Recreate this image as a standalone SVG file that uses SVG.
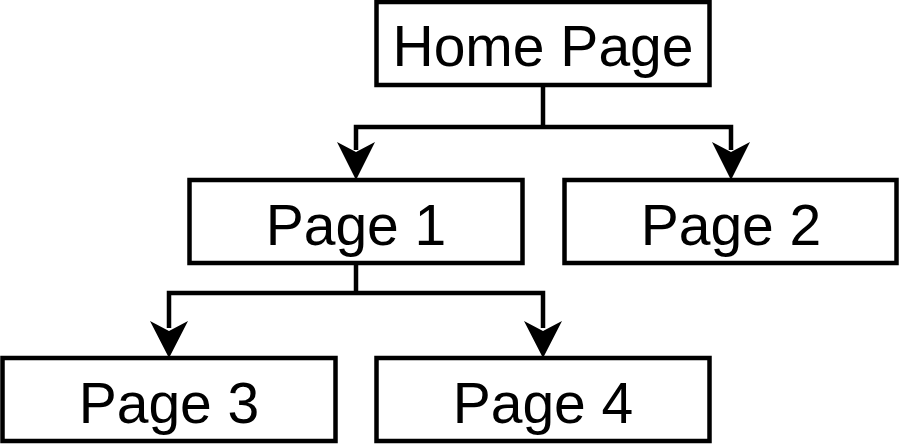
<svg xmlns="http://www.w3.org/2000/svg" width="899" height="445" viewBox="0 0 899 445">
  <style>
    .box { fill: #ffffff; stroke: #000000; stroke-width: 4.5; }
    .lbl { font-family: "Liberation Sans", Arial, Helvetica, sans-serif; font-size: 57px; fill: #000000; text-anchor: middle; }
    .edge { fill: none; stroke: #000000; stroke-width: 4.5; stroke-linejoin: miter; }
    .head { fill: #000000; stroke: none; }
  </style>
  <rect width="899" height="445" fill="#ffffff"/>
  <g id="connectors">
    <path class="edge" d="M543 85 V127"/>
    <path class="edge" d="M356 150 V127 H731 V150"/>
    <path class="edge" d="M356 263 V293"/>
    <path class="edge" d="M169 328 V293 H543 V328"/>
    <path class="head" d="M356 180 L337 142 L356 152 L375 142 Z"/>
    <path class="head" d="M731 180 L712 142 L731 152 L750 142 Z"/>
    <path class="head" d="M169 358 L150 321 L169 331 L188 321 Z"/>
    <path class="head" d="M543 358 L524 321 L543 331 L562 321 Z"/>
  </g>
  <g id="home">
    <rect class="box" x="376.5" y="2" width="333" height="83"/>
    <text class="lbl" x="543" y="66">Home Page</text>
  </g>
  <g id="page1">
    <rect class="box" x="189.5" y="180" width="333" height="83"/>
    <text class="lbl" x="356" y="245">Page 1</text>
  </g>
  <g id="page2">
    <rect class="box" x="564.5" y="180" width="332" height="83"/>
    <text class="lbl" x="731" y="245">Page 2</text>
  </g>
  <g id="page3">
    <rect class="box" x="2.5" y="358" width="333" height="83"/>
    <text class="lbl" x="169" y="423">Page 3</text>
  </g>
  <g id="page4">
    <rect class="box" x="376.5" y="358" width="333" height="83"/>
    <text class="lbl" x="543" y="423">Page 4</text>
  </g>
</svg>
